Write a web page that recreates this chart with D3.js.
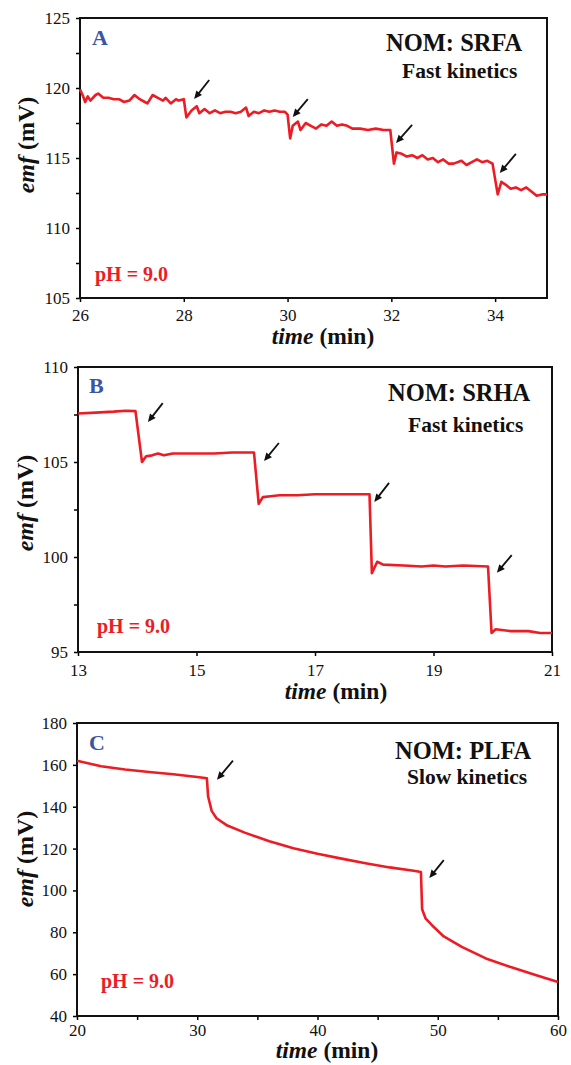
<!DOCTYPE html>
<html><head><meta charset="utf-8">
<script src="https://cdn.jsdelivr.net/npm/d3@7"></script>
<style>
body{margin:0;background:#fff}
svg{display:block}
text{font-family:"Liberation Serif","Times New Roman",serif}
</style>
</head><body><svg id="chart" width="571" height="1065"></svg>
<script>
// ---------- Panel A : SRFA ----------
const aTime = [26.00,26.05,26.10,26.15,26.20,26.30,26.35,26.45,26.55,26.65,26.75,26.85,26.95,27.05,27.15,27.25,27.30,27.40,27.50,27.60,27.65,27.75,27.85,27.90,28.00,
  28.05,28.15,28.25,28.30,28.40,28.50,28.60,28.70,28.80,28.90,29.00,29.10,29.20,29.25,29.35,29.45,29.55,29.65,29.75,29.85,29.95,30.00,
  30.05,30.10,30.20,30.25,30.35,30.45,30.55,30.65,30.75,30.85,30.95,31.05,31.15,31.25,31.40,31.55,31.70,31.85,31.98,
  32.05,32.10,32.20,32.30,32.40,32.50,32.60,32.70,32.80,32.90,33.00,33.10,33.20,33.35,33.45,33.55,33.65,33.75,33.85,33.95,
  34.05,34.12,34.20,34.30,34.40,34.50,34.60,34.70,34.80,34.90,35.00];
const aEmf = [119.9,119.5,119.0,119.4,119.1,119.5,119.6,119.3,119.3,119.2,119.2,119.0,119.1,119.5,119.2,119.0,118.9,119.5,119.3,119.1,119.3,118.9,119.2,119.1,119.2,
  117.9,118.4,118.7,118.2,118.5,118.2,118.4,118.2,118.3,118.3,118.2,118.3,118.6,118.0,118.3,118.2,118.4,118.3,118.4,118.3,118.3,118.1,
  116.4,117.3,117.6,117.0,117.5,117.3,117.1,117.4,117.3,117.6,117.3,117.4,117.3,117.1,117.1,117.0,117.1,117.0,117.0,
  114.6,115.4,115.3,115.1,115.2,115.0,115.2,114.9,115.0,114.7,114.9,114.6,114.6,114.8,114.5,114.7,114.9,114.7,114.8,114.6,
  112.4,113.3,113.1,112.8,112.9,112.7,112.9,112.6,112.3,112.4,112.4];
const aXTicks = [26,28,30,32,34];
const aYTicks = [105,110,115,120,125];
const aYMinor = [107.5,112.5,117.5,122.5];
const aArrows = [[28.49,120.57,28.20,119.21],[30.39,119.21,30.10,117.93],[32.40,117.36,32.09,116.07],[34.40,115.29,34.09,113.93]];

// ---------- Panel B : SRHA ----------
const bTime = [13.00,13.30,13.60,13.80,13.97,14.08,14.15,14.25,14.35,14.45,14.60,14.80,15.00,15.30,15.60,15.80,15.97,
  16.05,16.12,16.25,16.40,16.70,17.00,17.30,17.60,17.92,17.96,18.05,18.15,18.50,18.80,19.00,19.20,19.50,19.92,
  19.98,20.05,20.30,20.60,20.80,21.00];
const bEmf = [107.55,107.6,107.65,107.7,107.68,105.0,105.3,105.35,105.45,105.35,105.45,105.45,105.45,105.45,105.5,105.5,105.5,
  102.8,103.15,103.2,103.25,103.25,103.3,103.3,103.3,103.3,99.15,99.75,99.6,99.55,99.5,99.55,99.5,99.55,99.5,
  96.0,96.2,96.1,96.1,96.0,96.0];
const bXTicks = [13,15,17,19,21];
const bYTicks = [95,100,105,110];
const bYMinor = [97.5,102.5,107.5];
const bArrows = [[14.43,108.1,14.18,107.1],[16.39,106.0,16.14,105.05],[18.25,103.9,18.0,102.9],[20.32,100.1,20.07,99.17]];

// ---------- Panel C : PLFA ----------
const cTime = [20,22,24,26,28,30,30.8,30.9,31.2,31.6,32.5,34,36,38,40,42,44,46,48,48.6,48.7,49,49.5,50.5,52,54,56,58,60];
const cEmf = [162,159.3,157.8,156.6,155.5,154.2,153.6,145,138,134.5,131,127.5,123.5,120.2,117.5,115.2,113,111,109.4,108.8,91,86.5,83.5,78,73,67.5,63.5,59.8,56.2];
const cXTicks = [20,30,40,50,60];
const cXMinor = [25,35,45,55];
const cYTicks = [40,60,80,100,120,140,160,180];
const cArrows = [[32.97,162.0,31.64,152.9],[50.5,114.5,49.3,105.9]];

const panelLetters = ["A","B","C"];
const nomTitles = ["NOM: SRFA","NOM: SRHA","NOM: PLFA"];
const kineticsLabels = ["Fast kinetics","Fast kinetics","Slow kinetics"];
const phLabel = "pH = 9.0";

const RED = "#ed1c24", BLUE = "#3a55a5";

const panels = [
  {time:aTime, emf:aEmf, xd:[26,35], yd:[105,125], xt:aXTicks, xm:[], yt:aYTicks, ym:aYMinor, arrows:aArrows,
   box:{l:80,r:547,t:18,b:298}, xPad:7, letter:[92,45], nom:[386,51], sub:[402,78], ph:[95,281], ylab:[34,145], xlab:[323,344]},
  {time:bTime, emf:bEmf, xd:[13,21], yd:[95,110], xt:bXTicks, xm:[], yt:bYTicks, ym:bYMinor, arrows:bArrows,
   box:{l:78,r:552,t:367,b:652}, xPad:8, letter:[89,393], nom:[388,401], sub:[408,432], ph:[97,633], ylab:[33,503], xlab:[336,699]},
  {time:cTime, emf:cEmf, xd:[20,60], yd:[40,180], xt:cXTicks, xm:cXMinor, yt:cYTicks, ym:[], arrows:cArrows,
   box:{l:77,r:558,t:723,b:1016}, xPad:4, letter:[89,750], nom:[395,759], sub:[407,784], ph:[101,988], ylab:[33,859], xlab:[327,1058]}
];

const svg = d3.select("#chart");

panels.forEach((p, i) => {
  const x = d3.scaleLinear().domain(p.xd).range([p.box.l, p.box.r]);
  const y = d3.scaleLinear().domain(p.yd).range([p.box.b, p.box.t]);
  const g = svg.append("g");

  const xAxis = d3.axisBottom(x).tickValues(p.xt).tickSize(4).tickPadding(p.xPad).tickFormat(d3.format("d"));
  const yAxis = d3.axisLeft(y).tickValues(p.yt).tickSize(4).tickPadding(6).tickFormat(d3.format("d"));
  const gx = g.append("g").attr("transform", `translate(0,${p.box.b})`).call(xAxis);
  const gy = g.append("g").attr("transform", `translate(${p.box.l},0)`).call(yAxis);
  [gx, gy].forEach(a => {
    a.attr("font-family", '"Liberation Serif",serif').attr("font-size", 17);
    a.select(".domain").remove();
    a.selectAll(".tick line").attr("stroke", "#000").attr("stroke-width", 1.5);
    a.selectAll(".tick text").attr("fill", "#111").style("font-size", "17px").style("font-family", '"Liberation Serif",serif');
  });
  if (p.xm.length) {
    g.append("g").attr("transform", `translate(0,${p.box.b})`)
      .call(d3.axisBottom(x).tickValues(p.xm).tickSize(4).tickFormat(""))
      .call(a => { a.select(".domain").remove(); a.selectAll(".tick line").attr("stroke-width", 1.5); });
  }
  if (p.ym.length) {
    g.append("g").attr("transform", `translate(${p.box.l},0)`)
      .call(d3.axisLeft(y).tickValues(p.ym).tickSize(4).tickFormat(""))
      .call(a => { a.select(".domain").remove(); a.selectAll(".tick line").attr("stroke-width", 1.5); });
  }

  g.append("rect").attr("x", p.box.l).attr("y", p.box.t)
    .attr("width", p.box.r - p.box.l).attr("height", p.box.b - p.box.t)
    .attr("fill", "none").attr("stroke", "#111").attr("stroke-width", 2);

  const data = p.time.map((t, k) => [t, p.emf[k]]);
  g.append("path").datum(data)
    .attr("fill", "none").attr("stroke", RED).attr("stroke-width", 2.6).attr("stroke-linejoin", "round")
    .attr("d", d3.line().x(d => x(d[0])).y(d => y(d[1])));

  p.arrows.forEach(a => {
    const x0 = x(a[0]), y0 = y(a[1]), x1 = x(a[2]), y1 = y(a[3]);
    const ang = Math.atan2(y1 - y0, x1 - x0);
    const L = 8, W = 3.6;
    const bx = x1 - L * Math.cos(ang), by = y1 - L * Math.sin(ang);
    g.append("line").attr("x1", x0).attr("y1", y0).attr("x2", bx + Math.cos(ang)).attr("y2", by + Math.sin(ang))
      .attr("stroke", "#111").attr("stroke-width", 1.8);
    const px = -Math.sin(ang), py = Math.cos(ang);
    g.append("path")
      .attr("d", `M${x1},${y1}L${bx + W * px},${by + W * py}L${bx - W * px},${by - W * py}Z`)
      .attr("fill", "#111");
  });

  g.append("text").attr("x", p.letter[0]).attr("y", p.letter[1]).text(panelLetters[i])
    .attr("fill", BLUE).style("font-size", "22px").style("font-weight", "bold");
  g.append("text").attr("x", p.nom[0]).attr("y", p.nom[1]).text(nomTitles[i])
    .attr("fill", "#111").style("font-size", "24.5px").style("font-weight", "bold");
  g.append("text").attr("x", p.sub[0]).attr("y", p.sub[1]).text(kineticsLabels[i])
    .attr("fill", "#111").style("font-size", "21.5px").style("font-weight", "bold");
  g.append("text").attr("x", p.ph[0]).attr("y", p.ph[1]).text(phLabel)
    .attr("fill", RED).style("font-size", "20px").style("font-weight", "bold");

  const yl = g.append("text").attr("transform", `translate(${p.ylab[0]},${p.ylab[1]}) rotate(-90)`)
    .attr("text-anchor", "middle").attr("fill", "#111").style("font-size", "24px").style("font-weight", "bold");
  yl.append("tspan").style("font-style", "italic").text("emf");
  yl.append("tspan").text(" (mV)");

  const xl = g.append("text").attr("x", p.xlab[0]).attr("y", p.xlab[1])
    .attr("text-anchor", "middle").attr("fill", "#111").style("font-size", "23.5px").style("font-weight", "bold");
  xl.append("tspan").style("font-style", "italic").text("time");
  xl.append("tspan").text(" (min)");
});
</script>
</body></html>
